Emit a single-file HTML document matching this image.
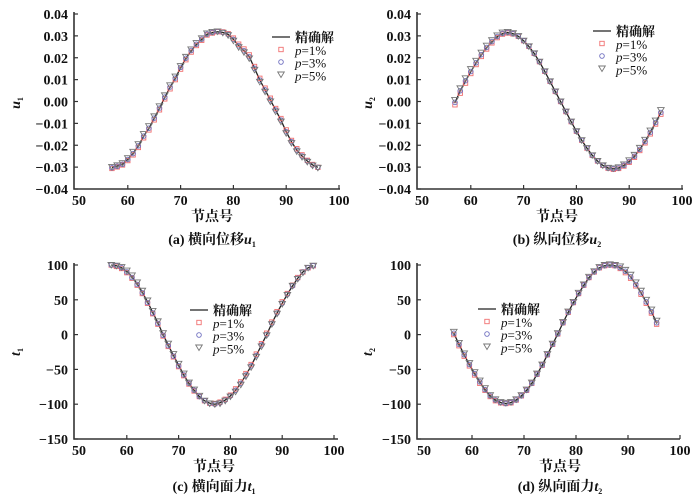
<!DOCTYPE html>
<html><head><meta charset="utf-8">
<style>
html,body{margin:0;padding:0;background:#fff;}
svg{display:block;font-family:"Liberation Serif","Noto Serif CJK SC","Noto Sans CJK SC",serif;}
.tk{font-size:14px;font-weight:bold;fill:#111;}
.lg{font-size:13px;fill:#111;}
.cap{font-size:14px;font-weight:bold;fill:#111;}
</style></head>
<body>
<svg id="chart" width="700" height="498" viewBox="0 0 700 498" xmlns="http://www.w3.org/2000/svg"></svg>
<script>
const nodesA = [57,58,59,60,61,62,63,64,65,66,67,68,69,70,71,72,73,74,75,76,77,78,79,80,81,82,83,84,85,86,87,88,89,90,91,92,93,94,95,96];
const u1Exact = [-30.2,-29.5,-28.6,-26.4,-23.7,-20.3,-15.8,-12.3,-7.7,-3.1,1.9,6.5,10.6,15.5,19.7,23.2,26.1,28.4,30.7,31.5,31.9,31.6,30.7,28.4,25.5,23.2,20.5,15.2,9.8,5.3,0.7,-3.9,-8.5,-13.8,-18.4,-22.2,-24.9,-27.2,-29.0,-30.1];
const u1P1 = [-30.6,-29.9,-29.0,-27.0,-24.4,-21.0,-16.6,-13.0,-8.4,-3.8,1.2,5.8,10.0,14.8,19.1,22.6,25.6,28.0,30.4,31.3,31.9,31.8,31.0,29.0,26.2,24.0,21.3,16.0,10.6,6.1,1.5,-3.2,-7.8,-13.0,-17.8,-21.6,-24.4,-26.9,-28.8,-30.1];
const u1P3 = [-30.3,-29.6,-28.7,-26.5,-23.8,-20.3,-15.8,-12.2,-7.6,-3.0,2.0,6.6,10.7,15.6,19.8,23.3,26.2,28.5,30.8,31.6,32.0,31.6,30.7,28.4,25.5,23.2,20.5,15.2,9.8,5.3,0.7,-3.9,-8.5,-13.8,-18.4,-22.2,-24.9,-27.2,-29.0,-30.1];
const u1P5 = [-29.9,-29.2,-28.2,-25.9,-23.0,-19.5,-14.9,-11.3,-6.8,-2.2,2.8,7.4,11.4,16.2,20.4,23.8,26.7,28.9,31.1,31.8,32.0,31.4,30.3,27.8,24.8,22.5,19.7,14.5,9.0,4.5,0.0,-4.6,-9.2,-14.5,-19.0,-22.8,-25.4,-27.6,-29.3,-30.3];

const nodesB = [57,58,59,60,61,62,63,64,65,66,67,68,69,70,71,72,73,74,75,76,77,78,79,80,81,82,83,84,85,86,87,88,89,90,91,92,93,94,95,96];
const u2Exact = [-0.5,4.8,9.4,13.6,17.6,21.3,24.6,27.3,29.6,31.0,31.5,31.0,29.8,27.8,25.2,22.0,18.2,13.8,9.2,4.6,0.0,-4.6,-9.2,-13.6,-17.7,-21.3,-24.6,-27.2,-29.2,-30.4,-30.8,-30.4,-29.2,-27.4,-25.0,-21.9,-18.3,-14.1,-9.6,-5.0];
const u2P1 = [-1.5,3.8,8.4,12.8,16.9,20.6,24.0,26.8,29.2,30.8,31.3,30.9,29.8,27.8,25.2,22.0,18.2,13.8,9.2,4.6,0.0,-4.6,-9.2,-13.6,-17.7,-21.3,-24.6,-27.2,-29.2,-30.5,-31.0,-30.6,-29.5,-27.8,-25.5,-22.4,-18.9,-14.8,-10.3,-5.8];
const u2P3 = [-0.4,4.9,9.5,13.7,17.7,21.4,24.7,27.4,29.7,31.1,31.6,31.0,29.8,27.8,25.2,22.0,18.2,13.8,9.2,4.6,0.0,-4.6,-9.2,-13.6,-17.7,-21.3,-24.6,-27.2,-29.2,-30.4,-30.8,-30.4,-29.2,-27.4,-25.0,-21.9,-18.3,-14.1,-9.6,-5.0];
const u2P5 = [0.7,6.0,10.6,14.8,18.6,22.3,25.5,28.0,30.2,31.5,31.8,31.2,29.9,27.8,25.2,22.0,18.2,13.8,9.2,4.6,0.0,-4.6,-9.2,-13.6,-17.7,-21.3,-24.6,-27.2,-29.2,-30.3,-30.6,-30.1,-28.8,-26.9,-24.4,-21.2,-17.5,-13.3,-8.7,-3.9];

const nodesC = [57,58,59,60,61,62,63,64,65,66,67,68,69,70,71,72,73,74,75,76,77,78,79,80,81,82,83,84,85,86,87,88,89,90,91,92,93,94,95,96];
const t1Exact = [100,99,96,91,83,73,61,47,32,17,0,-15,-30,-44,-58,-70,-80,-89,-95,-98.5,-100,-98,-94,-88,-80,-70,-58,-45,-30,-15,0,16,31,45,58,70,81,90,96,99];
const t1P1 = [100,98,95,89,81,71,59,45,30,15,-2,-17,-32,-46,-59,-71,-81,-89,-95,-98.5,-99,-97,-93,-87,-78,-68,-56,-43,-28,-13,2,18,33,47,59,71,82,90,96,99];
const t1P3 = [100,99,96,90,82,72,60,46,31,16,-1,-16,-31,-45,-58,-70,-80,-89,-95,-98.5,-100,-98,-94,-88,-80,-70,-58,-45,-30,-15,0,16,31,45,58,70,81,90,96,99];
const t1P5 = [100,99,97,92,85,75,63,49,34,19,2,-13,-28,-42,-56,-69,-79,-88,-95,-99,-100,-99,-95,-89,-82,-72,-60,-47,-32,-17,-1,15,30,44,57,70,80,89,96,99];

const nodesD = [56.5,57.5,58.5,59.5,60.5,61.5,62.5,63.5,64.5,65.5,66.5,67.5,68.5,69.5,70.5,71.5,72.5,73.5,74.5,75.5,76.5,77.5,78.5,79.5,80.5,81.5,82.5,83.5,84.5,85.5,86.5,87.5,88.5,89.5,90.5,91.5,92.5,93.5,94.5,95.5];
const t2Exact = [2,-14,-29,-43,-56,-68,-79,-88,-94,-97.5,-99,-97.5,-94,-88,-80,-70,-57,-44,-29,-14,1,17,32,46,59,71,82,90,96,99,100,99,96,91,83,72,60,47,33,17];
const t2P1 = [0,-16,-31,-45,-58,-70,-80,-89,-95,-98,-99,-98,-94,-88,-80,-70,-57,-44,-29,-14,1,17,32,46,59,71,82,90,96,99,100,99,95,89,81,70,58,45,31,15];
const t2P3 = [2,-14,-29,-43,-56,-68,-79,-88,-94,-97.5,-99,-97.5,-94,-88,-80,-70,-57,-44,-29,-14,1,17,32,46,59,71,82,90,96,99,100,99,96,91,83,72,60,47,33,17];
const t2P5 = [4,-12,-27,-41,-54,-66,-77,-87,-93,-97,-98,-97,-93,-87,-79,-69,-56,-43,-28,-13,2,18,33,47,60,72,83,91,97,100,101,100,98,93,86,75,63,50,36,20];

const xTicks = [50,60,70,80,90,100];
const uTicks = [0.04,0.03,0.02,0.01,0.00,-0.01,-0.02,-0.03,-0.04];
const uTickLabels = ["0.04","0.03","0.02","0.01","0.00","\u22120.01","\u22120.02","\u22120.03","\u22120.04"];
const tTicks = [100,50,0,-50,-100,-150];
const tTickLabels = ["100","50","0","\u221250","\u2212100","\u2212150"];
const legendLabels = ["精确解","p=1%","p=3%","p=5%"];

const NS = "http://www.w3.org/2000/svg";
const svg = document.getElementById("chart");
function mk(tag, attrs, parent){
  const e = document.createElementNS(NS, tag);
  for (const k in attrs) e.setAttribute(k, attrs[k]);
  (parent||svg).appendChild(e);
  return e;
}

function panel(cfg){
  const g = mk("g", {});
  
  
  const sx = v => cfg.x0 + (v - 50) * (cfg.x1 - cfg.x0) / 50;
  const sy = v => cfg.yTop + (cfg.yMax - v) * (cfg.yBot - cfg.yTop) / (cfg.yMax - cfg.yMin);
  const ax = mk("path", {d:`M${cfg.axX},${cfg.yTop-2} V${cfg.yBot} H${cfg.xEnd}`, fill:"none", stroke:"#333", "stroke-width":1.6}, g);
  
  
  cfg.yTicks.forEach((t,i)=>{
    const y = sy(t);
    mk("line",{x1:cfg.axX,x2:cfg.axX+4,y1:y,y2:y,stroke:"#333","stroke-width":1.2},g);
    const tx = mk("text",{x:cfg.axX-6,y:y+5,"text-anchor":"end",class:"tk"},g);
    tx.textContent = cfg.yLabels[i];
    
    
  });
  xTicks.forEach(t=>{
    const x = sx(t);
    if (t>50) mk("line",{x1:x,x2:x,y1:cfg.yBot,y2:cfg.yBot-4,stroke:"#333","stroke-width":1.2},g);
    const tx = mk("text",{x:x+(t==50?4:0),y:cfg.yBot+16,"text-anchor":"middle",class:"tk"},g);
    tx.textContent = t;
    
    
  });
  const xt = mk("text",{x:cfg.xtX,y:cfg.yBot+32,"text-anchor":"middle",class:"cap"},g);
  xt.textContent = "节点号";
  
  
  const yt = mk("text",{x:0,y:0,"text-anchor":"middle",class:"cap","font-style":"italic",transform:`translate(${cfg.ytX},${cfg.ytY}) rotate(-90)`},g);
  yt.innerHTML = cfg.ySym + '<tspan font-size="8" dy="3" font-style="normal">' + cfg.ySub + '</tspan>';
  
  
  const cap = mk("text",{x:cfg.xtX,y:cfg.capY,"text-anchor":"middle",class:"cap"},g);
  cap.innerHTML = cfg.cap + '<tspan font-style="italic">' + cfg.ySym + '</tspan><tspan font-size="8" dy="3">' + cfg.ySub + '</tspan>';
  
  
  const d = cfg.nodes.map((n,i)=>(i?"L":"M")+sx(n).toFixed(2)+","+sy(cfg.exact[i]).toFixed(2)).join(" ");
  const ln = mk("path",{d:d,fill:"none",stroke:"#222","stroke-width":1.3},g);
  
  
  cfg.nodes.forEach((n,i)=>{
    const x = sx(n);
    const r = mk("rect",{x:x-2.2,y:sy(cfg.p1[i])-2.2,width:4.4,height:4.4,fill:"none",stroke:"#f07070","stroke-width":0.9},g);
    
    
    const c = mk("circle",{cx:x,cy:sy(cfg.p3[i]),r:2.3,fill:"none",stroke:"#7070c0","stroke-width":0.9},g);
    
    
    const y5 = sy(cfg.p5[i]);
    const tr = mk("path",{d:`M${x-3.3},${y5-2.5} H${x+3.3} L${x},${y5+3} Z`,fill:"none",stroke:"#777","stroke-width":0.9},g);
    
    
  });
  const lg = mk("g",{},g);
  
  
  const L = cfg.leg;
  mk("line",{x1:L.x,x2:L.x+18,y1:L.y,y2:L.y,stroke:"#222","stroke-width":1.3},lg);
  const mx = L.x+9;
  mk("rect",{x:mx-2.2,y:L.y+12.5-2.2,width:4.4,height:4.4,fill:"none",stroke:"#f07070","stroke-width":0.9},lg);
  mk("circle",{cx:mx,cy:L.y+25,r:2.3,fill:"none",stroke:"#7070c0","stroke-width":0.9},lg);
  mk("path",{d:`M${mx-3.3},${L.y+35} H${mx+3.3} L${mx},${L.y+40.5} Z`,fill:"none",stroke:"#777","stroke-width":0.9},lg);
  legendLabels.forEach((t,i)=>{
    const tx = mk("text",{x:L.x+23,y:L.y+5+i*12.8,class:"lg"},lg);
    if (i===0){ tx.textContent = t; tx.setAttribute("font-weight","bold"); }
    else tx.innerHTML = '<tspan font-style="italic">p</tspan>' + t.slice(1);
    
    
  });
}

panel({name:"panel-a-u1", nodes:nodesA, exact:u1Exact, p1:u1P1, p3:u1P3, p5:u1P5,
  x0:75, x1:339, axX:74, xEnd:340, yTop:14, yBot:189, yMax:40, yMin:-40,
  yTicks:uTicks.map(v=>v*1000), yLabels:uTickLabels, ySym:"u", ySub:"1",
  ytX:20, ytY:103, xtX:212, capY:244, cap:"(a) 横向位移", leg:{x:272,y:37}});
panel({name:"panel-b-u2", nodes:nodesB, exact:u2Exact, p1:u2P1, p3:u2P3, p5:u2P5,
  x0:418, x1:682, axX:417, xEnd:683, yTop:14, yBot:189, yMax:40, yMin:-40,
  yTicks:uTicks.map(v=>v*1000), yLabels:uTickLabels, ySym:"u", ySub:"2",
  ytX:372, ytY:103, xtX:557, capY:244, cap:"(b) 纵向位移", leg:{x:593,y:31}});
panel({name:"panel-c-t1", nodes:nodesC, exact:t1Exact, p1:t1P1, p3:t1P3, p5:t1P5,
  x0:75, x1:334, axX:74, xEnd:338, yTop:265, yBot:439, yMax:100, yMin:-150,
  yTicks:tTicks, yLabels:tTickLabels, ySym:"t", ySub:"1",
  ytX:20, ytY:352, xtX:214, capY:491, cap:"(c) 横向面力", leg:{x:190,y:310}});
panel({name:"panel-d-t2", nodes:nodesD, exact:t2Exact, p1:t2P1, p3:t2P3, p5:t2P5,
  x0:420, x1:680, axX:417, xEnd:680, yTop:265, yBot:439, yMax:100, yMin:-150,
  yTicks:tTicks, yLabels:tTickLabels, ySym:"t", ySub:"2",
  ytX:372, ytY:352, xtX:560, capY:491, cap:"(d) 纵向面力", leg:{x:478,y:309}});
</script>
</body></html>
